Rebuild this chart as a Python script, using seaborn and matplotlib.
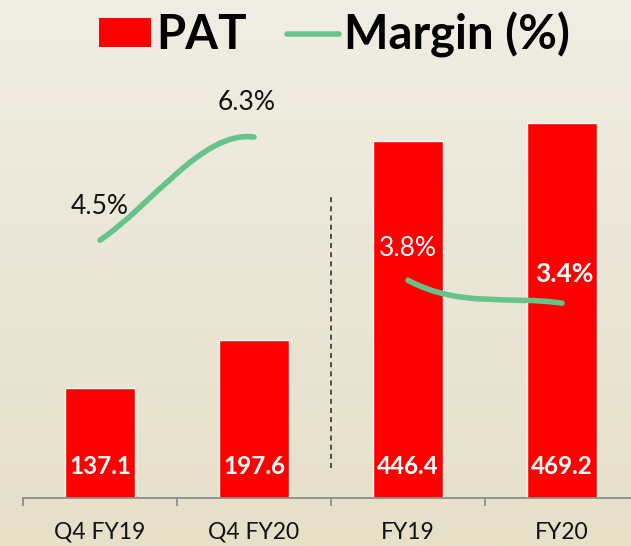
import matplotlib
matplotlib.use('Agg')

import numpy as np
import matplotlib.pyplot as plt
import seaborn as sns
from matplotlib.path import Path
from matplotlib.patches import PathPatch, Patch
from matplotlib.lines import Line2D
from matplotlib.ticker import FixedLocator

# data
periods = ['Q4 FY19', 'Q4 FY20', 'FY19', 'FY20']
pat = [137.1, 197.6, 446.4, 469.2]
margin = [4.5, 6.3, 3.8, 3.4]
margin_labels = ['4.5%', '6.3%', '3.8%', '3.4%']
segments = [(0, 1), (2, 3)]  # margin line is split: quarter vs full year

RED = '#FF0000'
GREEN = '#66C48A'

sns.set_theme(style='white')
plt.rcParams['font.family'] = ['Lato', 'DejaVu Sans']
plt.rcParams['text.color'] = 'black'

fig = plt.figure(figsize=(6.31, 5.46), dpi=100)

# beige background
bg = fig.add_axes([0, 0, 1, 1], zorder=-10)
grad = np.linspace(0, 1, 256).reshape(-1, 1)
cmap = matplotlib.colors.LinearSegmentedColormap.from_list('bg', ['#F0EDE4', '#E6E0C9'])
bg.imshow(grad, aspect='auto', cmap=cmap, extent=[0, 1, 0, 1])
bg.axis('off')

ax = fig.add_axes([23 / 631, 48 / 546, 616 / 631, 498 / 546])
ax.patch.set_alpha(0)

sns.barplot(x=periods, y=pat, color=RED, width=0.455, saturation=1, ax=ax)
ax.set_xlim(-0.5, 3.5)
ax.set_ylim(0, 622.5)

for i, v in enumerate(pat):
    ax.annotate(f'{v:.1f}', xy=(i, 0), xytext=(0, 22.5), textcoords='offset points',
                ha='center', va='center', color='white', fontsize=17.5, fontweight='bold')

# dashed separator between quarter and full year
ax.plot([1.5, 1.5], [37.5, 381], color='#333333', lw=1.2, ls=(0, (3, 2.5)))

for s in ['left', 'right', 'top']:
    ax.spines[s].set_visible(False)
ax.spines['bottom'].set_color('#8c8c8c')
ax.spines['bottom'].set_linewidth(1.3)
ax.set_yticks([])
ax.set_xlabel('')
ax.set_ylabel('')
ax.tick_params(axis='x', which='major', length=0, pad=17, labelsize=16.5, labelcolor='#111111')
ax.xaxis.set_minor_locator(FixedLocator([-0.5, 0.5, 1.5, 2.5, 3.5]))
ax.tick_params(axis='x', which='minor', bottom=True, direction='out', length=6,
               width=1.3, color='#8c8c8c')

# margin line on secondary axis, smoothed like the source chart
ax2 = ax.twinx()
ax2.set_ylim(0, 498 / 57.3)
ax2.set_yticks([])
for s in ax2.spines.values():
    s.set_visible(False)

pts = np.column_stack([np.arange(len(margin)), margin]).astype(float)
n = len(pts)
tang = []
for i in range(n):
    if i == 0:
        tang.append(pts[1] - pts[0])
    elif i == n - 1:
        tang.append(pts[-1] - pts[-2])
    else:
        tang.append((pts[i + 1] - pts[i - 1]) / 2)

for a, b in segments:
    c1 = pts[a] + tang[a] / 3
    c2 = pts[b] - tang[b] / 3
    path = Path([pts[a], c1, c2, pts[b]], [Path.MOVETO, Path.CURVE4, Path.CURVE4, Path.CURVE4])
    ax2.add_patch(PathPatch(path, fill=False, edgecolor=GREEN, lw=4, capstyle='round'))

label_style = [
    dict(color='#111111', fontweight='normal', off=(0, 24)),
    dict(color='#111111', fontweight='normal', off=(-5, 25)),
    dict(color='white', fontweight='normal', off=(0, 23)),
    dict(color='white', fontweight='bold', off=(2, 21)),
]
for i, (m, lab) in enumerate(zip(margin, margin_labels)):
    st = label_style[i]
    ax2.annotate(lab, xy=(i, m), xytext=st['off'], textcoords='offset points',
                 ha='center', va='center', fontsize=19, color=st['color'],
                 fontweight=st['fontweight'])

handles = [Patch(facecolor=RED, edgecolor='none', label='PAT'),
           Line2D([], [], color=GREEN, lw=4, solid_capstyle='round', label='Margin (%)')]
fig.legend(handles=handles, loc='upper center', bbox_to_anchor=(0.53, 1.057), ncol=2,
           frameon=False, prop=dict(size=34, weight='bold'), labelcolor='black',
           handlelength=1.1, handleheight=0.55, handletextpad=0.12, columnspacing=0.85)

fig.savefig('out.png', dpi=100)
